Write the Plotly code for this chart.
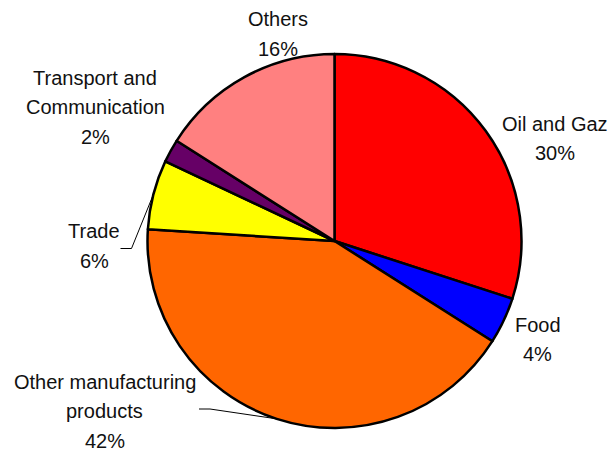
import math
import plotly.graph_objects as go

# Sector shares, listed clockwise from 12 o'clock
categories = ["Oil and Gaz", "Food", "Other manufacturing products",
              "Trade", "Transport and Communication", "Others"]
values = [30, 4, 42, 6, 2, 16]
colors = ["#FF0000", "#0000FF", "#FF6600", "#FFFF00", "#660066", "#FF8080"]

# How each category name wraps in its label
label_lines = {
    "Other manufacturing products": ["Other manufacturing", "products"],
    "Transport and Communication": ["Transport and", "Communication"],
}

W, H = 612, 451
CX, CY, R = 334.5, 241.0, 187.0          # pie centre and radius, pixels
LINE_GAP = 29.5                          # baseline-to-baseline spacing
FONT_SIZE = 20

# Label block anchors: (centre x, first baseline y) in pixels
label_pos = {
    "Oil and Gaz": (554.5, 130.5),
    "Food": (537.5, 331.5),
    "Other manufacturing products": (104.5, 388.5),
    "Trade": (94.0, 238.0),
    "Transport and Communication": (95.0, 84.5),
    "Others": (278.0, 26.5),
}

# Elbow leader lines: (start x, start y, elbow x) in pixels
leaders = {
    "Trade": (120.5, 248.5, 131.5),
    "Other manufacturing products": (199.0, 409.0, 210.0),
}


def px(x):
    return x / W


def py(y):
    return 1 - y / H


fig = go.Figure(go.Pie(
    labels=categories,
    values=values,
    sort=False,
    direction="clockwise",
    rotation=0,
    marker=dict(colors=colors, line=dict(color="#000000", width=2.5)),
    textinfo="none",
    hoverinfo="label+percent",
    domain=dict(x=[px(CX - R), px(CX + R)], y=[py(CY + R), py(CY - R)]),
))

total = sum(values)
annotations = []
shapes = []
cum = 0.0
for name, v in zip(categories, values):
    mid = (cum + v / 2) / total
    cum += v
    lines = label_lines.get(name, [name]) + [f"{round(100 * v / total)}%"]
    x0, y0 = label_pos[name]
    for k, line in enumerate(lines):
        base = y0 + k * LINE_GAP
        annotations.append(dict(
            text=line, xref="paper", yref="paper",
            x=px(x0), y=py(base - 7), xanchor="center", yanchor="middle",
            showarrow=False,
            font=dict(family="Arial, Liberation Sans, sans-serif",
                      size=FONT_SIZE, color="#111111"),
        ))
    if name in leaders:
        sx, sy, ex = leaders[name]
        ang = 2 * math.pi * mid
        tx = CX + R * math.sin(ang)
        ty = CY - R * math.cos(ang)
        path = (f"M {px(sx)},{py(sy)} L {px(ex)},{py(sy)} "
                f"L {px(tx)},{py(ty)}")
        shapes.append(dict(type="path", path=path, xref="paper", yref="paper",
                           line=dict(color="#000000", width=1)))

fig.update_layout(
    width=W, height=H,
    margin=dict(l=0, r=0, t=0, b=0),
    paper_bgcolor="#FFFFFF",
    plot_bgcolor="#FFFFFF",
    showlegend=False,
    annotations=annotations,
    shapes=shapes,
)

fig.write_html("out.html")
